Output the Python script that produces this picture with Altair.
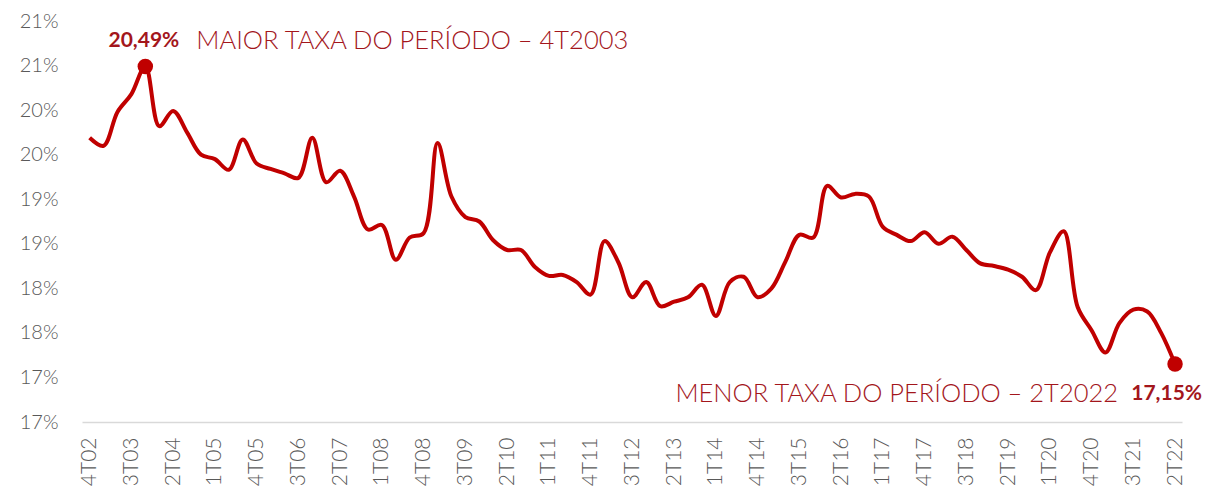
import altair as alt
import pandas as pd

# Quarterly rate (%) from 4T02 to 2T22
values = [
    19.69, 19.60, 19.98, 20.18, 20.49, 19.82, 19.99, 19.75, 19.50, 19.45,
    19.33, 19.67, 19.40, 19.34, 19.29, 19.24, 19.69, 19.19, 19.32, 19.03,
    18.66, 18.71, 18.32, 18.57, 18.62, 19.63, 19.03, 18.80, 18.75, 18.54,
    18.43, 18.43, 18.24, 18.14, 18.15, 18.07, 17.93, 18.53, 18.29, 17.90,
    18.07, 17.80, 17.85, 17.90, 18.04, 17.69, 18.07, 18.13, 17.90, 18.00,
    18.30, 18.60, 18.57, 19.15, 19.02, 19.06, 19.03, 18.69, 18.60, 18.53,
    18.63, 18.50, 18.58, 18.43, 18.28, 18.25, 18.21, 18.13, 17.98, 18.40,
    18.64, 17.79, 17.53, 17.28, 17.61, 17.76, 17.74, 17.50, 17.15,
]

tick_labels = [
    "4T02", "3T03", "2T04", "1T05", "4T05", "3T06", "2T07", "1T08", "4T08",
    "3T09", "2T10", "1T11", "4T11", "3T12", "2T13", "1T14", "4T14", "3T15",
    "2T16", "1T17", "4T17", "3T18", "2T19", "1T20", "4T20", "3T21", "2T22",
]

y_ticks = [16.5, 17.0, 17.5, 18.0, 18.5, 19.0, 19.5, 20.0, 20.5, 21.0]

max_idx = 4
min_idx = 78
max_value_label = "20,49%"
max_caption = "MAIOR TAXA DO PERÍODO – 4T2003"
min_value_label = "17,15%"
min_caption = "MENOR TAXA DO PERÍODO – 2T2022"

LINE = "#c00000"
TXT = "#a3161c"
GRAY = "#595959"
FONT = "Lato"

df = pd.DataFrame({"i": list(range(len(values))), "v": values})
df_max = pd.DataFrame({"i": [max_idx], "v": [values[max_idx]]})
df_min = pd.DataFrame({"i": [min_idx], "v": [values[min_idx]]})

label_arr = "[" + ",".join("'" + t + "'" for t in tick_labels) + "]"

x_enc = alt.X(
    "i:Q",
    scale=alt.Scale(domain=[-0.55, 78.5], nice=False, zero=False),
    axis=alt.Axis(
        values=list(range(0, len(values), 3)),
        labelExpr=label_arr + "[round(datum.value / 3)]",
        labelAngle=-90,
        labelFlush=False,
        labelOverlap=False,
        ticks=False,
        grid=False,
        domainColor="#d9d9d9",
        domainWidth=1.5,
        labelPadding=15,
        labelFontSize=21,
        labelFont=FONT,
        labelFontWeight=300,
        labelColor=GRAY,
        title=None,
    ),
)
y_enc = alt.Y(
    "v:Q",
    scale=alt.Scale(domain=[16.5, 21.0], nice=False, zero=False),
    axis=alt.Axis(
        values=y_ticks,
        labelExpr="round(datum.value) + '%'",
        ticks=False,
        domain=False,
        grid=False,
        labelPadding=24,
        labelFontSize=20,
        labelFont=FONT,
        labelFontWeight=300,
        labelColor=GRAY,
        labelFlush=False,
        title=None,
    ),
)

line = alt.Chart(df).mark_line(
    color=LINE, strokeWidth=4, interpolate="catmull-rom"
).encode(x=x_enc, y=y_enc)

dot_max = alt.Chart(df_max).mark_point(
    filled=True, color=LINE, size=240, opacity=1
).encode(x="i:Q", y="v:Q")
dot_min = alt.Chart(df_min).mark_point(
    filled=True, color=LINE, size=240, opacity=1
).encode(x="i:Q", y="v:Q")

max_val_txt = alt.Chart(df_max).mark_text(
    text=max_value_label, align="right", baseline="middle", dx=34, dy=-25,
    fontSize=21, fontWeight="bold", font=FONT, color=TXT
).encode(x="i:Q", y="v:Q")
max_cap_txt = alt.Chart(df_max).mark_text(
    text=max_caption, align="left", baseline="middle", dx=51, dy=-25,
    fontSize=25.5, fontWeight=300, font=FONT, color=TXT
).encode(x="i:Q", y="v:Q")
min_val_txt = alt.Chart(df_min).mark_text(
    text=min_value_label, align="right", baseline="middle", dx=27, dy=30,
    fontSize=21, fontWeight="bold", font=FONT, color=TXT
).encode(x="i:Q", y="v:Q")
min_cap_txt = alt.Chart(df_min).mark_text(
    text=min_caption, align="right", baseline="middle", dx=-57, dy=30,
    fontSize=25.5, fontWeight=300, font=FONT, color=TXT
).encode(x="i:Q", y="v:Q")

chart = alt.layer(
    line, dot_max, dot_min, max_val_txt, max_cap_txt, min_val_txt, min_cap_txt
).properties(
    width=1100,
    height=401,
    autosize=alt.AutoSizeParams(type="none"),
    padding={"left": 74, "top": 13, "right": 20, "bottom": 70},
).configure_view(stroke=None)

chart.save("out.html", embed_options={"renderer": "svg", "actions": False})
